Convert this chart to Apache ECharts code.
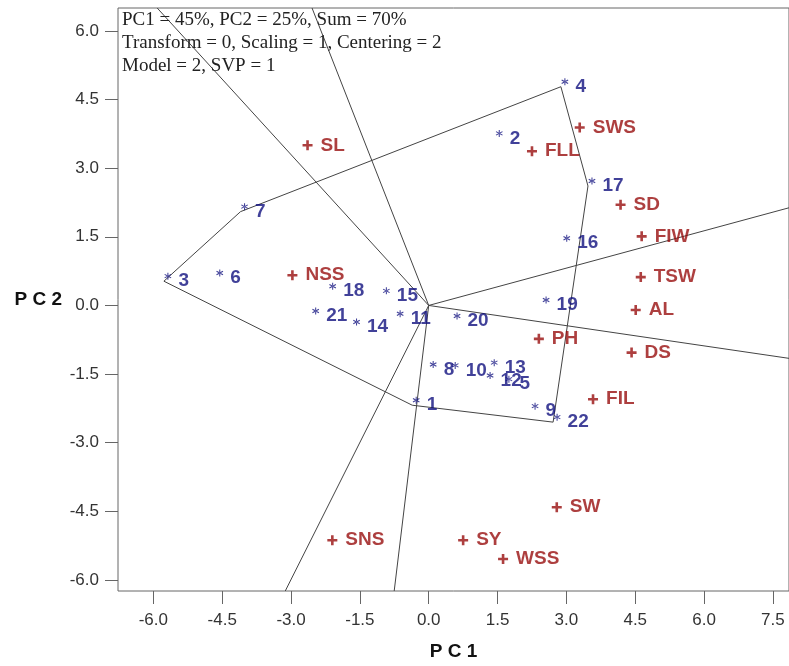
<!DOCTYPE html>
<html>
<head>
<meta charset="utf-8">
<script src="https://cdn.jsdelivr.net/npm/echarts@6/dist/echarts.min.js"></script>
<style>
html,body{margin:0;padding:0;background:#fff;}
#chart{width:789px;height:666px;}
</style>
</head>
<body>
<div id="chart"></div>
<script>
// ---- data ----
const genoNames = ['1','2','3','4','5','6','7','8','9','10','11','12','13','14','15','16','17','18','19','20','21','22'];
const genoPC1 = [-0.36,1.45,-5.77,2.88,1.66,-4.64,-4.10,0.01,2.23,0.49,-0.71,1.25,1.34,-1.66,-1.01,2.92,3.47,-2.18,2.47,0.53,-2.55,2.71];
const genoPC2 = [-2.18,3.65,0.53,4.78,-1.72,0.60,2.05,-1.40,-2.31,-1.42,-0.29,-1.64,-1.36,-0.47,0.21,1.36,2.61,0.31,0.01,-0.34,-0.23,-2.55];

const traitNames = ['SL','SWS','FLL','SD','FIW','TSW','AL','NSS','PH','DS','FIL','SW','SNS','SY','WSS'];
const traitPC1 = [-2.64,3.29,2.25,4.18,4.64,4.62,4.51,-2.97,2.40,4.42,3.58,2.79,-2.10,0.75,1.62];
const traitPC2 = [3.50,3.89,3.37,2.20,1.51,0.62,-0.10,0.66,-0.73,-1.03,-2.05,-4.41,-5.13,-5.13,-5.54];

const hullOrder = ['4','17','22','1','3','7'];

const xTicks = [-6.0,-4.5,-3.0,-1.5,0.0,1.5,3.0,4.5,6.0,7.5];
const yTicks = [-6.0,-4.5,-3.0,-1.5,0.0,1.5,3.0,4.5,6.0];

const infoLines = ['PC1 = 45%, PC2 = 25%, Sum = 70%','Transform = 0, Scaling = 1, Centering = 2','Model = 2, SVP = 1'];

const xMin = -6.77, xMax = 7.85, yMin = -6.24, yMax = 6.5;

// ---- derived ----
const genoData = genoNames.map((n,i)=>({name:n, value:[genoPC1[i], genoPC2[i]]}));
const traitData = traitNames.map((n,i)=>({name:n, value:[traitPC1[i], traitPC2[i]]}));
const hullPts = hullOrder.map(n=>{const i=genoNames.indexOf(n); return [genoPC1[i], genoPC2[i]];});
const hullData = hullPts.concat([hullPts[0]]);

// rays from origin perpendicular to each hull side, extended to plot border
const rays = [];
for (let k=0;k<hullPts.length;k++){
  const A = hullPts[k], B = hullPts[(k+1)%hullPts.length];
  const dx = B[0]-A[0], dy = B[1]-A[1];
  let nx = dy, ny = -dx;
  if (nx*A[0]+ny*A[1] < 0){ nx=-nx; ny=-ny; }
  let t = Infinity;
  if (nx>0) t=Math.min(t, xMax/nx); else if (nx<0) t=Math.min(t, xMin/nx);
  if (ny>0) t=Math.min(t, yMax/ny); else if (ny<0) t=Math.min(t, yMin/ny);
  rays.push([[0,0],[nx*t, ny*t]]);
}

const starPath = 'path://M43,0 L57,0 L57,100 L43,100 Z M89.8,81.1 L96.8,68.9 L10.2,18.9 L3.2,31.1 Z M96.8,31.1 L89.8,18.9 L3.2,68.9 L10.2,81.1 Z';
const plusPath = 'path://M37,0 L63,0 L63,37 L100,37 L100,63 L63,63 L63,100 L37,100 L37,63 L0,63 L0,37 L37,37 Z';

const blue = '#12127f';
const red = '#990f0f';
const lineColor = '#444';

const series = [];
series.push({
  type:'line', data:hullData, symbol:'none', silent:true, z:1,
  lineStyle:{color:lineColor, width:1}, animation:false
});
rays.forEach(r=>series.push({
  type:'line', data:r, symbol:'none', silent:true, z:1, clip:true,
  lineStyle:{color:lineColor, width:1}, animation:false
}));
series.push({
  type:'scatter', data:genoData, symbol:starPath, symbolSize:7, symbolOffset:[4,-5],
  itemStyle:{color:blue}, z:3, animation:false
});
series.push({
  type:'scatter', data:genoData, symbol:'circle', symbolSize:1,
  itemStyle:{color:'rgba(0,0,0,0)'}, z:4, animation:false,
  label:{show:true, position:'right', distance:14, formatter:p=>p.name,
    color:blue, fontFamily:'Liberation Sans, Arial, sans-serif', fontWeight:'bold', fontSize:19}
});
series.push({
  type:'scatter', data:traitData, symbol:plusPath, symbolSize:10,
  itemStyle:{color:red}, z:4, animation:false,
  label:{show:true, position:'right', distance:8, formatter:p=>p.name,
    color:red, fontFamily:'Liberation Sans, Arial, sans-serif', fontWeight:'bold', fontSize:19}
});

const chart = echarts.init(document.getElementById('chart'), null, {renderer:'canvas'});
chart.setOption({
  backgroundColor:'#fff',
  animation:false,
  grid:{left:118, right:-2, top:8, bottom:71, show:true, borderColor:'#666', borderWidth:1, backgroundColor:'transparent'},
  xAxis:{
    type:'value', min:xMin, max:xMax,
    name:'P C 1', nameLocation:'middle', nameGap:51,
    nameTextStyle:{fontFamily:'Liberation Sans, Arial, sans-serif', fontWeight:'bold', fontSize:19, color:'#111'},
    axisLine:{show:false, onZero:false},
    axisTick:{show:true, customValues:xTicks, length:13, lineStyle:{color:'#666'}},
    axisLabel:{show:true, customValues:xTicks, formatter:v=>Number(v).toFixed(1), margin:21,
      fontFamily:'Liberation Sans, Arial, sans-serif', fontSize:17, color:'#333'},
    splitLine:{show:false}
  },
  yAxis:{
    type:'value', min:yMin, max:yMax,
    name:'P C 2', nameLocation:'middle', nameGap:56, nameRotate:0,
    nameTextStyle:{fontFamily:'Liberation Sans, Arial, sans-serif', fontWeight:'bold', fontSize:19, color:'#111'},
    axisLine:{show:false, onZero:false},
    axisTick:{show:true, customValues:yTicks, length:13, lineStyle:{color:'#666'}},
    axisLabel:{show:true, customValues:yTicks, formatter:v=>Number(v).toFixed(1), margin:19,
      fontFamily:'Liberation Sans, Arial, sans-serif', fontSize:17, color:'#333'},
    splitLine:{show:false}
  },
  graphic:[{
    type:'text', left:122, top:9, z:10,
    style:{text:infoLines.join('\n'), font:'19px "Liberation Serif", "Times New Roman", serif', lineHeight:23, fill:'#222'}
  }],
  series:series
});
</script>
</body>
</html>
